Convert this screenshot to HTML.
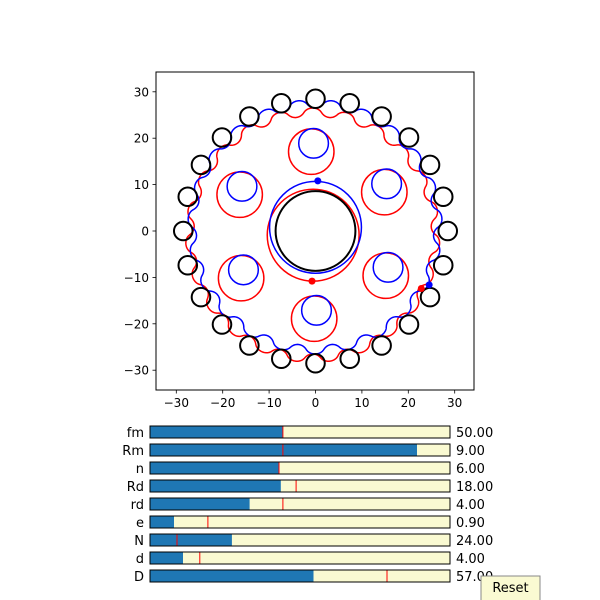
<!DOCTYPE html>
<html><head><meta charset="utf-8">
<style>
body{margin:0;background:#fff;width:600px;height:600px;overflow:hidden}
svg{display:block;font-family:"DejaVu Sans","Liberation Sans",sans-serif}
</style></head>
<body>
<svg id="chart" width="600" height="600" viewBox="0 0 600 600">
<defs><clipPath id="axclip"><rect x="156" y="72" width="318" height="318"/></clipPath></defs>
<rect x="156" y="72" width="318" height="318" fill="#fff"/>
<g id="plot" clip-path="url(#axclip)"></g>
<rect x="156" y="72" width="318" height="318" fill="none" stroke="#000" stroke-width="1"/>
<g id="ticks"></g>
<g id="sliders"></g>
<g>
<rect x="481" y="576" width="59" height="26" fill="#fafad2" stroke="#888" stroke-width="1"/>
<text x="510.5" y="592" font-size="13" text-anchor="middle" fill="#000">Reset</text>
</g>
</svg>
<script>
// parameters
const R = 28.5, rPin = 2, E = 0.9, Npins = 24;
const tickValues = [-30,-20,-10,0,10,20,30];
const redCenter = [-0.6, -0.9], blueCenter = [-0.1, 0.9];
const holeRadius = 18, holeR = 4.9, rollerR = 3.2;
const redHoleAngles = [91,151,211,271,331,31];
const blueHoleAngles = [91,151,211,271,331,31];
const redDots = [[-0.75,-10.8],[22.8,-12.4]];
const blueDots = [[0.5,10.8],[24.5,-11.6]];
const sliderLabels = ["fm","Rm","n","Rd","rd","e","N","d","D"];
const sliderText = ["50.00","9.00","6.00","18.00","4.00","0.90","24.00","4.00","57.00"];
const sliderFrac = [0.443,0.89,0.43,0.436,0.332,0.08,0.273,0.11,0.545];
const sliderInit = [0.443,0.443,0.43,0.487,0.443,0.193,0.09,0.166,0.79];

const NS="http://www.w3.org/2000/svg";
const x0=315.5,y0=231,s=4.64;
const X=v=>x0+v*s, Y=v=>y0-v*s;
function mk(tag,attrs,parent){const e=document.createElementNS(NS,tag);for(const k in attrs)e.setAttribute(k,attrs[k]);parent.appendChild(e);return e;}
const plot=document.getElementById('plot');
const ticks=document.getElementById('ticks');

tickValues.forEach(v=>{
  mk('line',{x1:X(v),x2:X(v),y1:390,y2:393.5,stroke:'#000','stroke-width':0.8},ticks);
  const t=mk('text',{x:X(v),y:407,'font-size':12,'text-anchor':'middle'},ticks);t.textContent=v<0?'\u2212'+(-v):v;
  
  
  mk('line',{x1:152.5,x2:156,y1:Y(v),y2:Y(v),stroke:'#000','stroke-width':0.8},ticks);
  const u=mk('text',{x:149,y:Y(v)+4.5,'font-size':12,'text-anchor':'end'},ticks);u.textContent=v<0?'\u2212'+(-v):v;
  
  
});

function circle(cx,cy,r,col,name,w){
  const c=mk('circle',{cx:X(cx),cy:Y(cy),r:r*s,fill:'none',stroke:col,'stroke-width':w||1.5},plot);
  
  
}
function profile(c,alpha,col,name){
  let d='';const a=alpha*Math.PI/180;
  for(let i=0;i<=2000;i++){
    const p=i/2000*2*Math.PI;
    const psi=Math.atan2(Math.sin((1-Npins)*p),R/(E*Npins)-Math.cos((1-Npins)*p));
    const px=R*Math.cos(p)-rPin*Math.cos(p+psi)-E*Math.cos(Npins*p);
    const py=-R*Math.sin(p)+rPin*Math.sin(p+psi)+E*Math.sin(Npins*p);
    const qx=px*Math.cos(a)-py*Math.sin(a)+c[0], qy=px*Math.sin(a)+py*Math.cos(a)+c[1];
    d+=(i?'L':'M')+X(qx).toFixed(2)+' '+Y(qy).toFixed(2);
  }
  const e=mk('path',{d:d+'Z',fill:'none',stroke:col,'stroke-width':1.5},plot);
  
  
}
profile(redCenter,-90,'#f00','red-disc-profile');
profile(blueCenter,90,'#00f','blue-disc-profile');
for(let k=0;k<Npins;k++){const t=(90+k*15)*Math.PI/180;circle(R*Math.cos(t),R*Math.sin(t),rPin,'#000','pin',2);}
redHoleAngles.forEach(ang=>{const t=ang*Math.PI/180;circle(redCenter[0]+holeRadius*Math.cos(t),redCenter[1]+holeRadius*Math.sin(t),holeR,'#f00','red-hole');});
blueHoleAngles.forEach(ang=>{const t=ang*Math.PI/180;circle(blueCenter[0]+holeRadius*Math.cos(t),blueCenter[1]+holeRadius*Math.sin(t),rollerR,'#00f','blue-roller');});
circle(-0.5,-0.9,9.9,'#f00','red-center-bore');
circle(0,0.8,9.9,'#00f','blue-center-bore');
circle(0,0,8.6,'#000','input-shaft',2);
redDots.forEach(p=>{const c=mk('circle',{cx:X(p[0]),cy:Y(p[1]),r:3.5,fill:'#f00'},plot);});
blueDots.forEach(p=>{const c=mk('circle',{cx:X(p[0]),cy:Y(p[1]),r:3.5,fill:'#00f'},plot);});

const sg=document.getElementById('sliders');
sliderLabels.forEach((lab,i)=>{
  const top=426+i*18,L=150,W=300;
  const g=mk('g',{},sg);
  
  
  mk('rect',{x:L,y:top,width:W,height:12,fill:'#fafad2'},g);
  mk('rect',{x:L,y:top,width:W*sliderFrac[i],height:12,fill:'#1f77b4'},g);
  mk('line',{x1:L+W*sliderInit[i],x2:L+W*sliderInit[i],y1:top,y2:top+12,stroke:'#f00','stroke-width':1},g);
  mk('rect',{x:L,y:top,width:W,height:12,fill:'none',stroke:'#000','stroke-width':1},g);
  const t=mk('text',{x:144,y:top+11,'font-size':13,'text-anchor':'end'},g);t.textContent=lab;
  const v=mk('text',{x:456,y:top+11,'font-size':13},g);v.textContent=sliderText[i];
});
</script>
</body></html>
